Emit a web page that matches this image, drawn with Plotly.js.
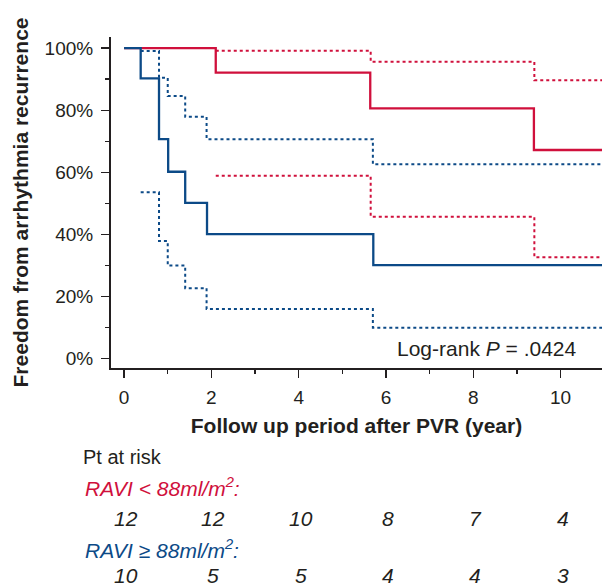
<!DOCTYPE html>
<html>
<head>
<meta charset="utf-8">
<script src="https://cdn.plot.ly/plotly-3.0.1.min.js"></script>
<style>
  html, body { margin: 0; padding: 0; background: #ffffff; }
  #chart { width: 602px; height: 586px; }
</style>
</head>
<body>
<div id="chart"></div>
<script>
// ---- data ----
// RAVI < 88 ml/m2 (red)
const redTimes      = [0, 2.10, 5.64, 9.39, 11.2];
const redSurv       = [100, 92.1, 80.6, 67.2, 67.2];
const redCiTimes    = [2.10, 5.65, 9.40, 11.2];
const redUpper      = [99.2, 95.6, 89.7, 89.7];
const redLower      = [58.9, 45.7, 32.7, 32.7];

// RAVI >= 88 ml/m2 (blue)
const blueTimes     = [0, 0.38, 0.80, 1.01, 1.40, 1.90, 5.71, 11.2];
const blueSurv      = [100, 90.3, 70.7, 60.2, 50.2, 40.1, 30.1, 30.1];
const blueCiTimes   = [0.38, 0.80, 1.00, 1.40, 1.89, 5.70, 11.2];
const blueUpper     = [99.1, 90.5, 84.6, 77.9, 70.7, 62.6, 62.6];
const blueLower     = [53.6, 37.9, 30.0, 22.7, 16.0, 10.0, 10.0];

// numbers at risk
const riskTimes     = [0, 2, 4, 6, 8, 10];
const riskRed       = [12, 12, 10, 8, 7, 4];
const riskBlue      = [10, 5, 5, 4, 4, 3];

const yTickVals     = [0, 20, 40, 60, 80, 100];
const yTickText     = ['0%', '20%', '40%', '60%', '80%', '100%'];
const xTickVals     = [0, 2, 4, 6, 8, 10];
const xTickText     = ['0', '2', '4', '6', '8', '10'];

const pValueText    = 'Log-rank <i>P</i> = .0424';

// ---- styling ----
const RED = '#d0103c';
const BLUE = '#0c4a87';
const INK = '#231f20';
const FONT = '"Liberation Sans", Arial, Helvetica, sans-serif';

function step(x, y, color, dash, width) {
  return {
    x: x, y: y, type: 'scatter', mode: 'lines',
    line: { shape: 'hv', color: color, dash: dash, width: width },
    hoverinfo: 'skip', showlegend: false
  };
}

const traces = [
  step(redCiTimes, redUpper, RED, 'dot', 2),
  step(redCiTimes, redLower, RED, 'dot', 2),
  step(redTimes, redSurv, RED, 'solid', 2.3),
  step(blueCiTimes, blueUpper, BLUE, 'dot', 2),
  step(blueCiTimes, blueLower, BLUE, 'dot', 2),
  step(blueTimes, blueSurv, BLUE, 'solid', 2.3)
];

// paper y from pixel y (plot area top 37, bottom 368)
function py(pix) { return (368 - pix) / 331; }

const annotations = [];
annotations.push({
  xref: 'x', yref: 'y', x: 10.42, y: 3.4, xanchor: 'right', yanchor: 'middle',
  text: pValueText, showarrow: false, font: { family: FONT, size: 21, color: INK }
});
annotations.push({
  xref: 'paper', yref: 'paper', x: -0.062, y: py(457), xanchor: 'left', yanchor: 'middle',
  text: 'Pt at risk', showarrow: false, font: { family: FONT, size: 20, color: INK }
});
annotations.push({
  xref: 'paper', yref: 'paper', x: -0.058, y: py(487), xanchor: 'left', yanchor: 'middle',
  text: '<i>RAVI &lt; 88ml/m<sup>2</sup>:</i>', showarrow: false, font: { family: FONT, size: 21, color: RED }
});
annotations.push({
  xref: 'paper', yref: 'paper', x: -0.058, y: py(549), xanchor: 'left', yanchor: 'middle',
  text: '<i>RAVI ≥ 88ml/m<sup>2</sup>:</i>', showarrow: false, font: { family: FONT, size: 21, color: BLUE }
});
riskTimes.forEach(function (t, i) {
  annotations.push({
    xref: 'x', yref: 'paper', x: t, y: py(518), xanchor: 'center', yanchor: 'middle', xshift: 2,
    text: '<i>' + riskRed[i] + '</i>', showarrow: false, font: { family: FONT, size: 21, color: INK }
  });
  annotations.push({
    xref: 'x', yref: 'paper', x: t, y: py(575), xanchor: 'center', yanchor: 'middle', xshift: 2,
    text: '<i>' + riskBlue[i] + '</i>', showarrow: false, font: { family: FONT, size: 21, color: INK }
  });
});

const layout = {
  width: 602, height: 586,
  margin: { l: 111, r: 0, t: 37, b: 218, pad: 0 },
  paper_bgcolor: '#ffffff', plot_bgcolor: '#ffffff',
  font: { family: FONT, color: INK },
  showlegend: false,
  xaxis: {
    range: [-0.30, 10.95],
    tickmode: 'array', tickvals: xTickVals, ticktext: xTickText,
    ticks: 'outside', ticklen: 8, tickwidth: 1.5, tickcolor: INK,
    minor: { dtick: 1, tick0: 0, ticks: 'outside', ticklen: 4, tickwidth: 1.5, tickcolor: INK },
    showline: true, linewidth: 2, linecolor: INK,
    showgrid: false, zeroline: false,
    tickfont: { family: FONT, size: 19, color: INK },
    ticklabelstandoff: 3,
    title: { text: '<b>Follow up period after PVR (year)</b>', font: { family: FONT, size: 21, color: INK }, standoff: 12 },
    automargin: false, fixedrange: true
  },
  yaxis: {
    range: [-3.0, 103.6],
    tickmode: 'array', tickvals: yTickVals, ticktext: yTickText,
    ticks: 'outside', ticklen: 8, tickwidth: 1.5, tickcolor: INK,
    minor: { dtick: 10, tick0: 0, ticks: 'outside', ticklen: 4, tickwidth: 1.5, tickcolor: INK },
    showline: true, linewidth: 2, linecolor: INK,
    showgrid: false, zeroline: false,
    tickfont: { family: FONT, size: 19, color: INK },
    ticklabelstandoff: 4,
    title: { text: '<b>Freedom from arrhythmia recurrence</b>', font: { family: FONT, size: 21, color: INK }, standoff: 10 },
    automargin: false, fixedrange: true
  },
  annotations: annotations
};

Plotly.newPlot('chart', traces, layout, { staticPlot: true, displayModeBar: false });
</script>
</body>
</html>
